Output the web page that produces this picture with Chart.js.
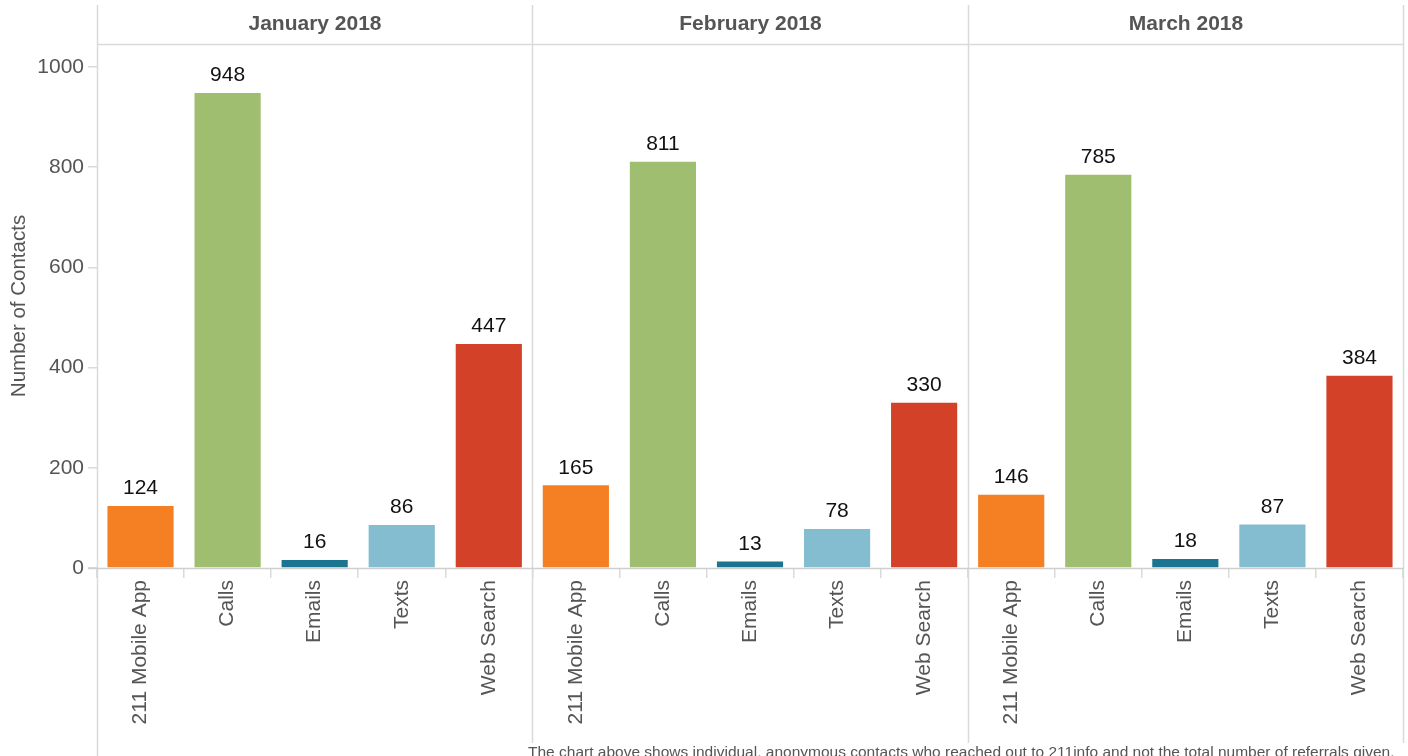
<!DOCTYPE html>
<html>
<head>
<meta charset="utf-8">
<script src="https://cdn.jsdelivr.net/npm/chart.js@4.4.1/dist/chart.umd.min.js"></script>
<style>
    html, body { margin: 0; padding: 0; background: #fff; }
    #wrap { position: relative; width: 1408px; height: 756px; }
</style>
</head>
<body>
<div id="wrap"><canvas id="chart"></canvas></div>
<script>
// facets and categories
const months = ['January 2018', 'February 2018', 'March 2018'];
const channels = ['211 Mobile App', 'Calls', 'Emails', 'Texts', 'Web Search'];
const channelColors = ['#F58024', '#A0BE6F', '#1B7590', '#83BDCF', '#D34129'];

// contacts per channel, one array per month
const january = [124, 948, 16, 86, 447];
const february = [165, 811, 13, 78, 330];
const march = [146, 785, 18, 87, 384];

const yTicks = [0, 200, 400, 600, 800, 1000];
const yMax = 1046;
const footnote = 'The chart above shows individual, anonymous contacts who reached out to 211info and not the total number of referrals given.';

const FONT = '"Liberation Sans", Arial, sans-serif';
const GRAY = '#555555';
const LINE = '#dadada';

const labels = [];
const values = [];
const colors = [];
[january, february, march].forEach(arr => {
    arr.forEach((v, i) => {
        labels.push(channels[i]);
        values.push(v);
        colors.push(channelColors[i]);
    });
});

// panel frames, month headers, footnote
const facetPlugin = {
    id: 'facets',
    beforeDatasetsDraw(chart) {
        const { ctx, chartArea, scales } = chart;
        const x = scales.x;
        const per = channels.length;
        const edges = [];
        for (let m = 0; m <= months.length; m++) {
            const idx = m * per;
            let px;
            if (idx === 0) px = chartArea.left;
            else if (idx >= labels.length) px = chartArea.right;
            else px = (x.getPixelForValue(idx - 1) + x.getPixelForValue(idx)) / 2;
            edges.push(Math.round(px) + 0.5);
        }
        ctx.save();
        ctx.strokeStyle = LINE;
        ctx.lineWidth = 1.5;
        edges.forEach((px, i) => {
            ctx.beginPath();
            ctx.moveTo(px, 5);
            ctx.lineTo(px, (i === 0) ? chart.height : 743);
            ctx.stroke();
        });
        // header underline
        ctx.beginPath();
        ctx.moveTo(edges[0], chartArea.top + 0.5);
        ctx.lineTo(edges[edges.length - 1], chartArea.top + 0.5);
        ctx.stroke();
        // x baseline
        ctx.strokeStyle = '#cfcfcf';
        ctx.beginPath();
        ctx.moveTo(chartArea.left - 9, chartArea.bottom + 0.5);
        ctx.lineTo(edges[edges.length - 1], chartArea.bottom + 0.5);
        ctx.stroke();

        ctx.fillStyle = GRAY;
        ctx.font = 'bold 21px ' + FONT;
        ctx.textAlign = 'center';
        ctx.textBaseline = 'middle';
        months.forEach((m, i) => {
            ctx.fillText(m, (edges[i] + edges[i + 1]) / 2, 24);
        });

        ctx.font = '15.5px ' + FONT;
        ctx.textAlign = 'left';
        ctx.textBaseline = 'top';
        ctx.fillText(footnote, 528, 745);
        ctx.restore();
    },
    afterDatasetsDraw(chart) {
        const { ctx } = chart;
        const meta = chart.getDatasetMeta(0);
        ctx.save();
        ctx.fillStyle = '#111';
        ctx.font = '21px ' + FONT;
        ctx.textAlign = 'center';
        ctx.textBaseline = 'bottom';
        meta.data.forEach((bar, i) => {
            ctx.fillText(String(values[i]), bar.x, bar.y - 7);
        });
        ctx.restore();
    }
};

new Chart(document.getElementById('chart'), {
    type: 'bar',
    data: {
        labels: labels,
        datasets: [{
            data: values,
            backgroundColor: colors,
            borderWidth: 0,
            barPercentage: 0.76,
            categoryPercentage: 1.0
        }]
    },
    options: {
        responsive: true,
        maintainAspectRatio: false,
        animation: false,
        layout: { padding: { top: 44, right: 5, bottom: 0, left: 0 } },
        plugins: {
            legend: { display: false },
            tooltip: { enabled: false }
        },
        scales: {
            x: {
                offset: true,
                border: { display: false },
                grid: {
                    offset: true,
                    drawOnChartArea: false,
                    drawTicks: true,
                    tickLength: 10,
                    color: LINE,
                    lineWidth: 1.5
                },
                ticks: {
                    autoSkip: false,
                    maxRotation: 90,
                    minRotation: 90,
                    padding: 2,
                    color: GRAY,
                    font: { family: FONT, size: 21 }
                },
                afterFit(scale) { scale.height = 188; }
            },
            y: {
                min: 0,
                max: yMax,
                border: { display: false },
                grid: {
                    drawOnChartArea: false,
                    drawTicks: true,
                    tickLength: 9,
                    color: LINE,
                    lineWidth: 1.5
                },
                ticks: {
                    includeBounds: false,
                    stepSize: 200,
                    padding: 4,
                    color: GRAY,
                    font: { family: FONT, size: 21 },
                    callback: v => String(v)
                },
                afterBuildTicks(scale) {
                    scale.ticks = yTicks.map(v => ({ value: v }));
                },
                title: {
                    display: true,
                    text: 'Number of Contacts',
                    color: GRAY,
                    padding: { top: 7, bottom: 0 },
                    font: { family: FONT, size: 20.5 }
                },
                afterFit(scale) { scale.width = 97; }
            }
        }
    },
    plugins: [facetPlugin]
});
</script>
</body>
</html>
